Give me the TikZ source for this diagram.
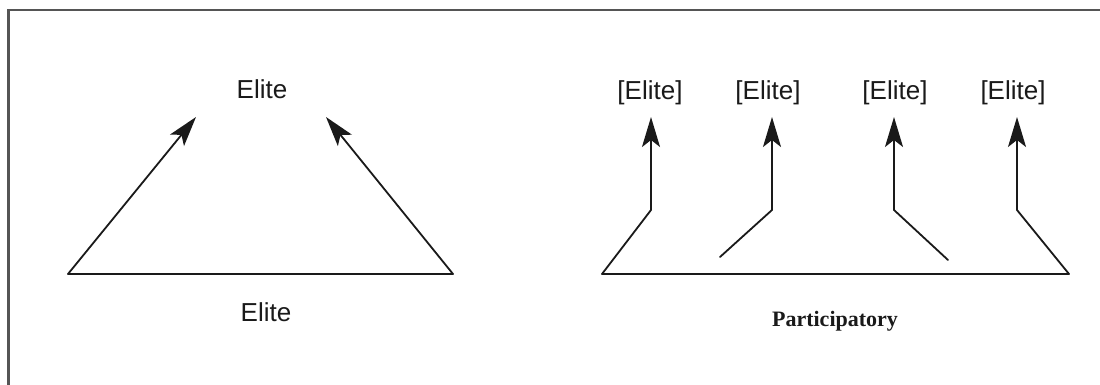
\documentclass[tikz,border=0pt]{standalone}
\usepackage{fontspec}
\setmainfont{Liberation Sans}
\newfontfamily\serifface{Liberation Serif}
\usetikzlibrary{arrows.meta}
\definecolor{framegray}{HTML}{555555}
\definecolor{ink}{HTML}{1A1A1A}
\tikzset{
  lbl/.style={anchor=base, inner sep=0pt, font=\fontsize{26}{30}\selectfont, text=ink},
  serlbl/.style={anchor=base, inner sep=0pt, font=\serifface\bfseries\fontsize{22}{26}\selectfont, text=ink},
  conn/.style={draw=ink, line width=1.8pt, line cap=round, line join=round},
  arr/.style={conn, -{Stealth[length=30pt, width=18pt, inset=7pt]}},
  framel/.style={draw=framegray, line width=2.2pt}
}
\begin{document}
\begin{tikzpicture}[x=1pt, y=-1pt]
\useasboundingbox (0,0) rectangle (1100,385);
\fill[white] (0,0) rectangle (1100,385);
% frame (only top and left visible)
\coordinate (fb) at (8.5,385);
\coordinate (ftl) at (8.5,10);
\coordinate (fr) at (1100,10);
\draw[framel] (fb) -- (ftl) -- (fr);

% ---------- left diagram ----------
\node[lbl] (etop) at (262,99) {Elite};
\node[lbl] (ebot) at (266,321) {Elite};
\coordinate (lbl) at (68,274);
\coordinate (lbr) at (453,274);
\coordinate (ltipl) at (196,117);
\coordinate (ltipr) at (326,117);
\draw[conn] (lbl) -- (lbr);
\draw[arr] (lbl) -- (ltipl);
\draw[arr] (lbr) -- (ltipr);

% ---------- right diagram ----------
\node[lbl] (r1) at (650,100) {[Elite]};
\node[lbl] (r2) at (768,100) {[Elite]};
\node[lbl] (r3) at (895,100) {[Elite]};
\node[lbl] (r4) at (1013,100) {[Elite]};
\node[serlbl] (part) at (835,326) {Participatory};

\coordinate (rbl) at (602,274);
\coordinate (rbr) at (1069,274);
\draw[conn] (rbl) -- (rbr);

\coordinate (b1) at (651,210);
\coordinate (b2) at (772,210);
\coordinate (b3) at (894,210);
\coordinate (b4) at (1017,210);
\coordinate (t1) at (651,117);
\coordinate (t2) at (772,117);
\coordinate (t3) at (894,117);
\coordinate (t4) at (1017,117);
\coordinate (s2) at (720,257);
\coordinate (s3) at (948,260);

\draw[arr] (rbl) -- (b1) -- (t1);
\draw[arr] (s2) -- (b2) -- (t2);
\draw[arr] (s3) -- (b3) -- (t3);
\draw[arr] (rbr) -- (b4) -- (t4);
\end{tikzpicture}
\end{document}
